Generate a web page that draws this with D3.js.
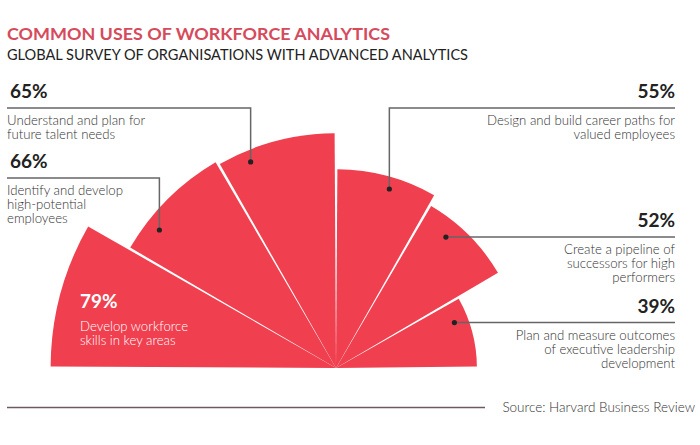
<!DOCTYPE html>
<html><head><meta charset="utf-8">
<script src="https://cdn.jsdelivr.net/npm/d3@7"></script>
<style>
body{margin:0;background:#fff;}
svg{display:block;font-family:Lato,"Noto Sans",sans-serif;}
</style></head>
<body>
<svg id="c" width="700" height="445"></svg>
<script>
const categories = [
  "Develop workforce skills in key areas",
  "Identify and develop high-potential employees",
  "Understand and plan for future talent needs",
  "Design and build career paths for valued employees",
  "Create a pipeline of successors for high performers",
  "Plan and measure outcomes of executive leadership development"
];
const values = [79, 66, 65, 55, 52, 39];
const labelLines = [
  ["Develop workforce", "skills in key areas"],
  ["Identify and develop", "high-potential", "employees"],
  ["Understand and plan for", "future talent needs"],
  ["Design and build career paths for", "valued employees"],
  ["Create a pipeline of", "successors for high", "performers"],
  ["Plan and measure outcomes", "of executive leadership", "development"]
];
const title = "COMMON USES OF WORKFORCE ANALYTICS";
const subtitle = "GLOBAL SURVEY OF ORGANISATIONS WITH ADVANCED ANALYTICS";
const source = "Source: Harvard Business Review";

const svg = d3.select("#c");
const cx = 336, cy = 368;
const red = "#F03F4F";

const rScale = d3.scaleLinear().domain([0, 80]).range([0, 289]);
const aScale = d3.scaleBand().domain(categories).range([-Math.PI / 2, Math.PI / 2]);

const arc = d3.arc()
  .innerRadius(0)
  .startAngle(c => aScale(c))
  .endAngle(c => aScale(c) + aScale.bandwidth())
  .padAngle(0.028).padRadius(100);

const g = svg.append("g").attr("transform", `translate(${cx},${cy})`);
g.selectAll("path").data(categories).join("path")
  .attr("d", (c, i) => arc.outerRadius(rScale(values[i]))(c))
  .attr("fill", red);

// Titles
svg.append("text").attr("x", 7).attr("y", 40).text(title)
  .attr("fill", "#D64B5C").attr("font-weight", 700).attr("font-size", 17.5)
  .attr("textLength", 383).attr("lengthAdjust", "spacingAndGlyphs");
svg.append("text").attr("x", 7).attr("y", 60).text(subtitle)
  .attr("fill", "#222").attr("font-size", 14.5)
  .attr("textLength", 461).attr("lengthAdjust", "spacingAndGlyphs");

// Annotation layout (positions only)
const layout = [
  {inside: true, x: 80, y: 308},
  {side: "left", lineY: 178, angle: -52, frac: 0.94},
  {side: "left", lineY: 108, angle: -22.5, frac: 0.95},
  {side: "right", lineY: 108, angle: 16.6, frac: 0.94},
  {side: "right", angle: 40, frac: 0.91},
  {side: "right", angle: 69, frac: 0.90}
];
const leftX = 7, rightX = 675;
const lineColor = "#666";
const bodySize = 13.2, bodyWeight = 300;

layout.forEach((L, i) => {
  const v = values[i];
  const lines = labelLines[i];
  if (L.inside) {
    svg.append("text").attr("x", L.x).attr("y", L.y).text(v + "%")
      .attr("fill", "#fff").attr("font-weight", 700).attr("font-size", 19);
    lines.forEach((t, k) => svg.append("text").attr("x", L.x).attr("y", L.y + 23 + k * 14)
      .text(t).attr("fill", "#fff").attr("font-size", bodySize).attr("font-weight", bodyWeight));
    return;
  }
  const a = L.angle * Math.PI / 180;
  const rr = rScale(v) * L.frac;
  const dx = cx + rr * Math.sin(a), dy = cy - rr * Math.cos(a);
  const lineY = L.lineY !== undefined ? L.lineY : dy;
  const isLeft = L.side === "left";
  const tx = isLeft ? leftX : rightX;
  const anchor = isLeft ? "start" : "end";
  let pts;
  if (L.lineY !== undefined) {
    pts = [[isLeft ? leftX : rightX, lineY], [dx, lineY], [dx, dy]];
  } else {
    pts = [[dx, dy], [rightX, dy]];
  }
  svg.append("path").attr("d", d3.line()(pts)).attr("fill", "none")
    .attr("stroke", lineColor).attr("stroke-width", 1.5);
  svg.append("circle").attr("cx", dx).attr("cy", dy).attr("r", 2.6).attr("fill", "#222");
  svg.append("text").attr("x", isLeft ? tx + 3 : tx).attr("y", lineY - 10).text(v + "%")
    .attr("text-anchor", anchor).attr("fill", "#222").attr("font-weight", 700).attr("font-size", 19);
  lines.forEach((t, k) => svg.append("text").attr("x", tx).attr("y", lineY + 17 + k * 14)
    .text(t).attr("text-anchor", anchor).attr("fill", "#333")
    .attr("font-size", bodySize).attr("font-weight", bodyWeight));
});

// bottom rule and source
svg.append("line").attr("x1", 7).attr("x2", 485).attr("y1", 407.5).attr("y2", 407.5)
  .attr("stroke", "#6d5a5c").attr("stroke-width", 1.5);
svg.append("text").attr("x", 695).attr("y", 412).text(source)
  .attr("text-anchor", "end").attr("fill", "#333").attr("font-size", 13.5).attr("font-weight", bodyWeight);
</script>
</body></html>
